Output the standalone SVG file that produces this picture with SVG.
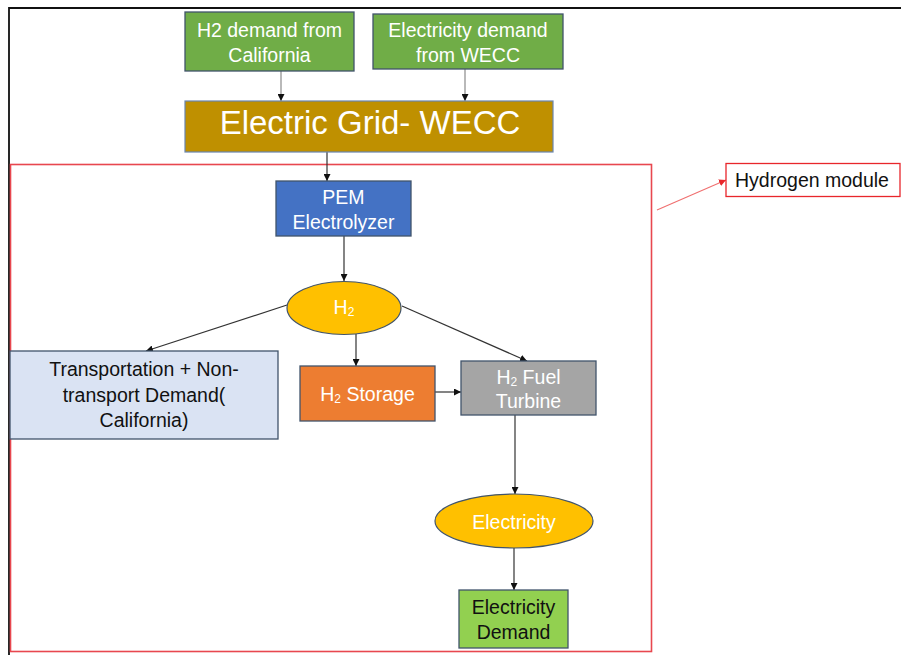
<svg xmlns="http://www.w3.org/2000/svg" width="901" height="655" viewBox="0 0 901 655">
  <defs>
    <style>
      text { font-family: "Liberation Sans", Arial, sans-serif; text-anchor: middle; dominant-baseline: central; }
      .w { fill: #ffffff; }
      .k { fill: #111111; }
      .t17 { font-size: 19.5px; }
      .box { stroke: #41546b; stroke-width: 1.3; }
      .edge { stroke: #333333; stroke-width: 1.2; fill: none; marker-end: url(#ah); }
      .edge-light { stroke: #8a8a8a; stroke-width: 1.2; fill: none; marker-end: url(#ah); }
    </style>
    <marker id="ah" viewBox="0 0 10 10" refX="10" refY="5" markerWidth="7" markerHeight="7" markerUnits="userSpaceOnUse" orient="auto">
      <path d="M0,0 L10,5 L0,10 z" fill="#111111"/>
    </marker>
    <marker id="ahr" viewBox="0 0 10 10" refX="10" refY="5" markerWidth="7" markerHeight="7" markerUnits="userSpaceOnUse" orient="auto">
      <path d="M0,0 L10,5 L0,10 z" fill="#e8262b"/>
    </marker>
  </defs>

  <rect width="901" height="655" fill="#ffffff"/>

  <!-- outer frame -->
  <path d="M9,655 V8 H901" fill="none" stroke="#111111" stroke-width="1.8"/>

  <!-- hydrogen module boundary -->
  <rect id="module-frame" x="10.5" y="164.5" width="641" height="487" fill="none" stroke="#e8474f" stroke-width="1.6"/>

  <g id="connectors">
    <line class="edge-light" x1="281" y1="71" x2="281" y2="101"/>
    <line class="edge-light" x1="465" y1="69" x2="465" y2="101"/>
    <line class="edge" x1="327" y1="152" x2="327" y2="181"/>
    <line class="edge" x1="344" y1="236" x2="344" y2="281"/>
    <line class="edge" x1="287" y1="305" x2="146" y2="351"/>
    <line class="edge" x1="356" y1="334" x2="356" y2="366"/>
    <line class="edge" x1="402" y1="306" x2="527" y2="361"/>
    <line class="edge" x1="435" y1="392" x2="461" y2="392"/>
    <line class="edge" x1="515" y1="415" x2="515" y2="494"/>
    <line class="edge" x1="514" y1="548" x2="514" y2="590"/>
    <line x1="657" y1="210" x2="726" y2="180" stroke="#f07070" stroke-width="1.1" marker-end="url(#ahr)"/>
  </g>

  <g id="h2-demand">
    <rect class="box" x="185" y="12" width="169" height="59" fill="#70ad47"/>
    <text class="w t17" x="269.5" y="30">H2 demand from</text>
    <text class="w t17" x="269.5" y="55">California</text>
  </g>

  <g id="elec-demand-wecc">
    <rect class="box" x="373" y="14" width="190" height="55" fill="#70ad47"/>
    <text class="w t17" x="468" y="30">Electricity demand</text>
    <text class="w t17" x="468" y="55">from WECC</text>
  </g>

  <g id="grid">
    <rect x="185" y="101" width="368" height="51" fill="#bf9000" stroke="#6a86b0" stroke-width="1.2"/>
    <text class="w" x="370" y="122" font-size="33">Electric Grid- WECC</text>
  </g>

  <g id="pem">
    <rect class="box" x="276" y="181" width="135" height="55" fill="#4472c4"/>
    <text class="w t17" x="343.5" y="197">PEM</text>
    <text class="w t17" x="343.5" y="222">Electrolyzer</text>
  </g>

  <g id="h2">
    <ellipse cx="344" cy="308" rx="57" ry="26.5" fill="#ffc000" stroke="#41546b" stroke-width="1.2"/>
    <text class="w t17" x="344" y="307">H<tspan font-size="12" dy="5">2</tspan></text>
  </g>

  <g id="transport-demand">
    <rect class="box" x="10" y="351" width="268" height="88" fill="#dae3f3"/>
    <text class="k t17" x="144" y="369">Transportation + Non-</text>
    <text class="k t17" x="144" y="395">transport Demand(</text>
    <text class="k t17" x="144" y="420">California)</text>
  </g>

  <g id="h2-storage">
    <rect class="box" x="300" y="366" width="135" height="55" fill="#ed7d31"/>
    <text class="w t17" x="367.5" y="394">H<tspan font-size="12" dy="5">2</tspan><tspan dy="-5"> Storage</tspan></text>
  </g>

  <g id="fuel-turbine">
    <rect class="box" x="461" y="361" width="135" height="54" fill="#a5a5a5"/>
    <text class="w t17" x="528.5" y="377">H<tspan font-size="12" dy="5">2</tspan><tspan dy="-5"> Fuel</tspan></text>
    <text class="w t17" x="528.5" y="401">Turbine</text>
  </g>

  <g id="electricity">
    <ellipse cx="514" cy="521" rx="79" ry="27" fill="#ffc000" stroke="#41546b" stroke-width="1.2"/>
    <text class="w t17" x="514" y="522">Electricity</text>
  </g>

  <g id="elec-demand">
    <rect class="box" x="459" y="590" width="109" height="58" fill="#92d050"/>
    <text class="k t17" x="513.5" y="607">Electricity</text>
    <text class="k t17" x="513.5" y="632">Demand</text>
  </g>

  <g id="hydrogen-module">
    <rect x="726" y="163.5" width="174" height="33" fill="#ffffff" stroke="#e8262b" stroke-width="1.3"/>
    <text class="k t17" x="812" y="180">Hydrogen module</text>
  </g>
</svg>
